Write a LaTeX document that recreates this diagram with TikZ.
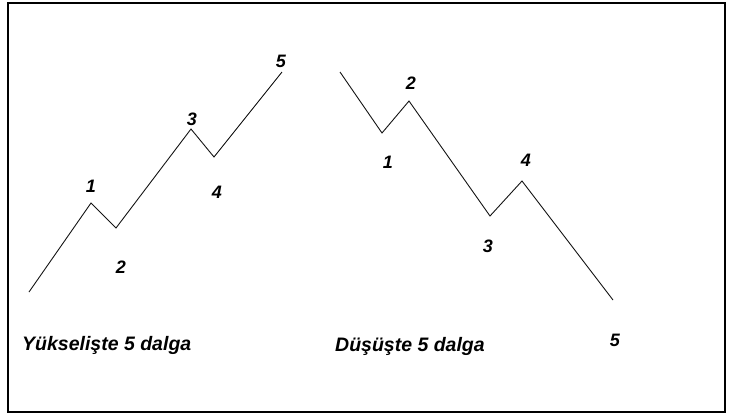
\documentclass[tikz,border=0pt]{standalone}
\usepackage{fontspec}
\setmainfont{Liberation Sans}
\usepackage{tikz}
\usetikzlibrary{positioning}
\definecolor{mydark}{RGB}{20,20,20}
\tikzset{
  wave/.style={line width=0.9pt, color=mydark, line join=miter},
  wavenum/.style={font=\fontsize{18}{20}\selectfont\bfseries\itshape, inner sep=0pt},
  caption/.style={font=\fontsize{19.5}{22}\selectfont\bfseries\itshape, inner sep=0pt, anchor=base west},
  frame/.style={line width=2pt, color=black}
}
\begin{document}
\begin{tikzpicture}[x=1pt, y=-1pt]
  \useasboundingbox (0,0) rectangle (729,416);
  % Outer frame
  \draw[frame] (8,3) rectangle (725,412);

  % Rising five waves
  \coordinate (u0) at (29,292);
  \coordinate (u1) at (91,203);
  \coordinate (u2) at (116,228);
  \coordinate (u3) at (191,129);
  \coordinate (u4) at (214,157);
  \coordinate (u5) at (282,72);
  \draw[wave] (u0) -- (u1) -- (u2) -- (u3) -- (u4) -- (u5);
  \node[wavenum] (un1) at (91,186) {1};
  \node[wavenum] (un2) at (121,267) {2};
  \node[wavenum] (un3) at (192,119) {3};
  \node[wavenum] (un4) at (217,192) {4};
  \node[wavenum] (un5) at (281,61) {5};

  % Falling five waves
  \coordinate (d0) at (340,72);
  \coordinate (d1) at (382,133);
  \coordinate (d2) at (409,101);
  \coordinate (d3) at (490,216);
  \coordinate (d4) at (522,181);
  \coordinate (d5) at (613,300);
  \draw[wave] (d0) -- (d1) -- (d2) -- (d3) -- (d4) -- (d5);
  \node[wavenum] (dn1) at (388,162) {1};
  \node[wavenum] (dn2) at (411,83) {2};
  \node[wavenum] (dn3) at (488,246) {3};
  \node[wavenum] (dn4) at (526,160) {4};
  \node[wavenum] (dn5) at (615,340) {5};

  % Captions
  \node[caption] (upcap) at (22,350) {Yükselişte 5 dalga};
  \node[caption] (downcap) at (335,351) {Düşüşte 5 dalga};
\end{tikzpicture}
\end{document}
